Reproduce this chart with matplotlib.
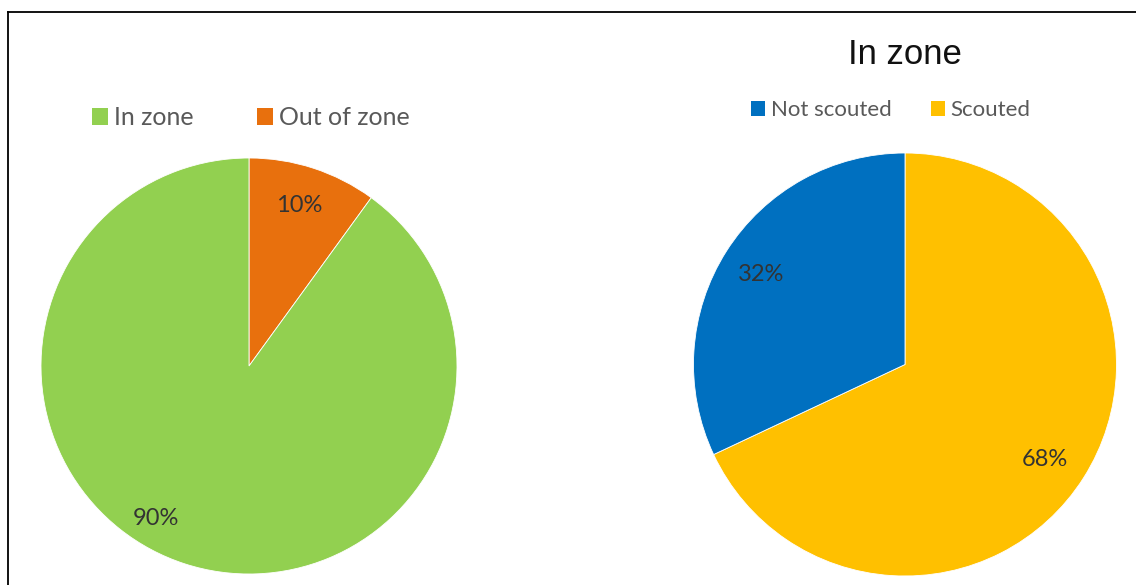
import matplotlib
matplotlib.use("Agg")
import matplotlib.pyplot as plt
from matplotlib.patches import Patch
from matplotlib.lines import Line2D
import numpy as np

# ---- data ----
left_labels = ["Out of zone", "In zone"]
left_values = [10, 90]
left_colors = ["#E8700D", "#92D050"]
left_legend_order = ["In zone", "Out of zone"]

right_labels = ["Scouted", "Not scouted"]
right_values = [68, 32]
right_colors = ["#FFC000", "#0070C0"]
right_legend_order = ["Not scouted", "Scouted"]
right_title = "In zone"

W, H = 1136, 585
fig = plt.figure(figsize=(W / 100, H / 100), dpi=100)
fig.patch.set_facecolor("white")

FONT = ["Lato", "DejaVu Sans"]
TXT = "#333333"


def px_axes(cx, cy, r):
    """axes square centered at pixel (cx, cy) from top-left, radius r px"""
    return fig.add_axes([(cx - r) / W, (H - cy - r) / H, 2 * r / W, 2 * r / H])


def draw_pie(ax, values, colors, label_pos):
    wedges, texts, autotexts = ax.pie(
        values, colors=colors, startangle=90, counterclock=False,
        autopct=lambda p: f"{p:.0f}%", pctdistance=0.8, radius=1.0,
        wedgeprops=dict(linewidth=0.6, edgecolor="white"),
        textprops=dict(fontsize=17, color=TXT, family=FONT))
    for t, (r, ang) in zip(autotexts, label_pos):
        if r is not None:
            a = np.deg2rad(ang)
            t.set_position((r * np.cos(a), r * np.sin(a)))
    ax.set_xlim(-1, 1)
    ax.set_ylim(-1, 1)
    ax.set_aspect("equal")
    ax.axis("off")
    return wedges


# left pie
axl = px_axes(249, 366, 208)
draw_pie(axl, left_values, left_colors, [(0.81, 72.5), (0.86, 238.5)])

# right pie
axr = px_axes(905, 364.5, 211.5)
draw_pie(axr, right_values, right_colors, [(0.80, -34), (0.80, 148)])

# legends
def legend(labels_order, labels, colors, x, y, size, colspace):
    handles = [Patch(facecolor=colors[labels.index(l)], edgecolor="none") for l in labels_order]
    leg = fig.legend(handles, labels_order, loc="center left",
                     bbox_to_anchor=(x / W, 1 - y / H), ncol=len(handles),
                     frameon=False, prop=dict(family=FONT, size=size),
                     handlelength=0.65, handleheight=0.65, handletextpad=0.25,
                     columnspacing=colspace, borderaxespad=0, borderpad=0)
    for t in leg.get_texts():
        t.set_color("#595959")
    return leg

legend(left_legend_order, left_labels, left_colors, 92, 118, 18, 2.5)
legend(right_legend_order, right_labels, right_colors, 751, 110, 16, 1.75)

# title
fig.text(905 / W, 1 - 55 / H, right_title, ha="center", va="center",
         fontsize=25, family=["Liberation Sans", "DejaVu Sans"], color="#111111")

# frame lines (top and left)
fig.add_artist(Line2D([7.5 / W, 1.0], [1 - 12 / H, 1 - 12 / H], color="black", lw=1.3,
                      transform=fig.transFigure))
fig.add_artist(Line2D([7.5 / W, 7.5 / W], [0, 1 - 12 / H], color="black", lw=1.3,
                      transform=fig.transFigure))

fig.savefig("out.png", dpi=100, facecolor="white")
